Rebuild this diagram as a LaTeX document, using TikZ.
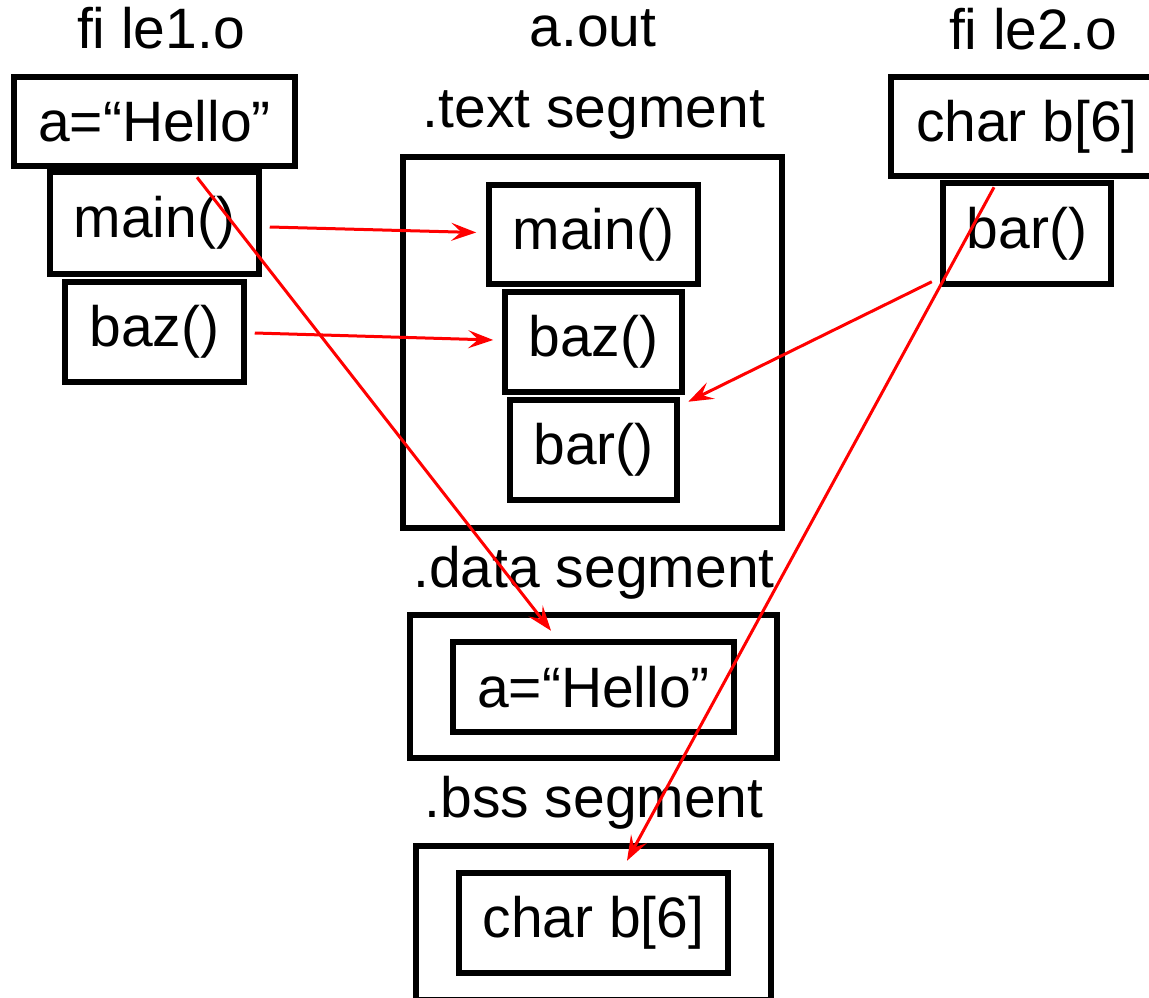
\documentclass[tikz,border=0pt]{standalone}
\usepackage{fontspec}
\setmainfont{Liberation Sans}
\usetikzlibrary{arrows.meta}

\begin{document}
\begin{tikzpicture}[x=1pt, y=-1pt,
        box/.style={draw, line width=5.5pt, inner sep=0pt, font=\fontsize{57}{68}\selectfont},
        lbl/.style={anchor=base, inner sep=0pt, font=\fontsize{57}{68}\selectfont},
        link/.style={draw=red, line width=3pt, -{Stealth[length=25pt, width=18pt, inset=10pt]}}]
        \useasboundingbox (0,0) rectangle (1149,998);
        % file1.o
        \node[lbl] (f1) at (161,49) {fi le1.o};
        \node[box, minimum width=281pt, minimum height=89pt] (h1) at (154.5,121.5) {a=“Hello”};
        \node[box, minimum width=209pt, minimum height=102pt] (m1) at (154.5,223) {main()};
        \node[box, minimum width=179pt, minimum height=100pt] (z1) at (154.5,332) {baz()};
        % a.out
        \node[lbl] (out) at (593,47) {a.out};
        \node[lbl] (tseg) at (594,127) {.text segment};
        \node[box, minimum width=379pt, minimum height=371pt] (text) at (592.5,342.5) {};
        \node[box, minimum width=209pt, minimum height=99pt] (m2) at (593.5,234.5) {main()};
        \node[box, minimum width=177pt, minimum height=100pt] (z2) at (593.5,342) {baz()};
        \node[box, minimum width=167pt, minimum height=100pt] (r2) at (593.5,450) {bar()};
        \node[lbl] (dseg) at (594,587) {.data segment};
        \node[box, minimum width=367pt, minimum height=143pt] (data) at (593.5,686.5) {};
        \node[box, minimum width=281pt, minimum height=90pt] (h2) at (593.5,687) {a=“Hello”};
        \node[lbl] (bseg) at (594,817) {.bss segment};
        \node[box, minimum width=355pt, minimum height=154pt] (bss) at (593.5,923) {};
        \node[box, minimum width=269pt, minimum height=100pt] (b2) at (593.5,923) {char b[6]};
        % file2.o
        \node[lbl] (f2) at (1033,50) {fi le2.o};
        \node[box, minimum width=272pt, minimum height=99pt] (b1) at (1027,126.5) {char b[6]};
        \node[box, minimum width=168pt, minimum height=101pt] (r1) at (1027,233.5) {bar()};
        % links
        \draw[link] ([xshift=8pt, yshift=-4pt]m1.east) -- ([xshift=-10pt, yshift=2pt]m2.west);
        \draw[link] ([xshift=8pt, yshift=-1pt]z1.east) -- ([xshift=-9pt, yshift=2pt]z2.west);
        \draw[link] ([xshift=-8.5pt, yshift=5pt]r1.south west) -- ([xshift=8.5pt, yshift=-4.5pt]r2.north east);
        \draw[link] ([xshift=42.5pt, yshift=-8.5pt]h1.south) -- ([xshift=-42.5pt, yshift=8.5pt]h2.north);
        \draw[link] ([xshift=-33pt, yshift=-8.5pt]b1.south) -- ([xshift=33.5pt, yshift=9.5pt]b2.north);
\end{tikzpicture}
\end{document}
